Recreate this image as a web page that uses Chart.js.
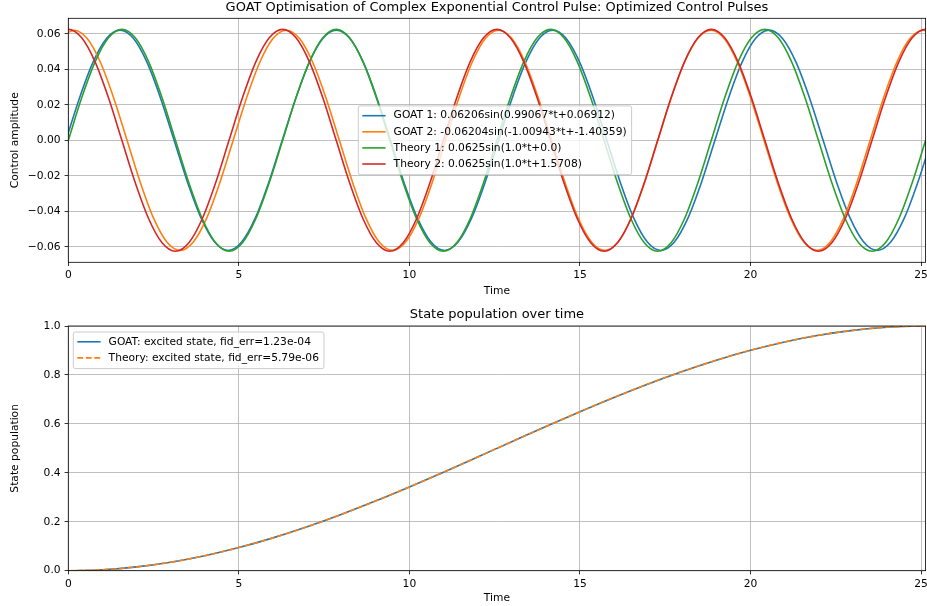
<!DOCTYPE html>
<html>
<head>
<meta charset="utf-8">
<script src="https://cdn.jsdelivr.net/npm/chart.js@4.4.1/dist/chart.umd.min.js"></script>
<style>
  body { margin: 0; background: #fff; }
  canvas { display: block; }
</style>
</head>
<body>
<canvas id="pulses" width="927" height="303"></canvas>
<canvas id="population" width="927" height="303"></canvas>
<script>
// fitted pulse GOAT 1 (amplitude 0.06206), read every sixteenth of a period
const goat1Time = [-0.4662,
  -0.0698, 0.3266, 0.7230, 1.1194, 1.5158, 1.9122, 2.3086, 2.7050,
  3.1014, 3.4978, 3.8942, 4.2906, 4.6870, 5.0834, 5.4798, 5.8762,
  6.2726, 6.6690, 7.0654, 7.4618, 7.8582, 8.2546, 8.6510, 9.0474,
  9.4438, 9.8402, 10.2366, 10.6330, 11.0294, 11.4258, 11.8222, 12.2186,
  12.6150, 13.0114, 13.4078, 13.8041, 14.2005, 14.5969, 14.9933, 15.3897,
  15.7861, 16.1825, 16.5789, 16.9753, 17.3717, 17.7681, 18.1645, 18.5609,
  18.9573, 19.3537, 19.7501, 20.1465, 20.5429, 20.9393, 21.3357, 21.7321,
  22.1285, 22.5249, 22.9213, 23.3177, 23.7141, 24.1105, 24.5069, 24.9033,
  25.2997, 25.6961];
const goat1Amp = [-0.02375,
  0, 0.02375, 0.04388, 0.05734, 0.06206, 0.05734, 0.04388, 0.02375,
  0, -0.02375, -0.04388, -0.05734, -0.06206, -0.05734, -0.04388, -0.02375,
  0, 0.02375, 0.04388, 0.05734, 0.06206, 0.05734, 0.04388, 0.02375,
  0, -0.02375, -0.04388, -0.05734, -0.06206, -0.05734, -0.04388, -0.02375,
  0, 0.02375, 0.04388, 0.05734, 0.06206, 0.05734, 0.04388, 0.02375,
  0, -0.02375, -0.04388, -0.05734, -0.06206, -0.05734, -0.04388, -0.02375,
  0, 0.02375, 0.04388, 0.05734, 0.06206, 0.05734, 0.04388, 0.02375,
  0, -0.02375, -0.04388, -0.05734, -0.06206, -0.05734, -0.04388, -0.02375,
  0, 0.02375];

// fitted pulse GOAT 2 (amplitude 0.06204)
const goat2Time = [-0.2234, 0.1656, 0.5547, 0.9437, 1.3327, 1.7218, 2.1108, 2.4998,
  2.8889, 3.2779, 3.6669, 4.0559, 4.4450,
  4.8340, 5.2230, 5.6121, 6.0011, 6.3901, 6.7792, 7.1682, 7.5572,
  7.9462, 8.3353, 8.7243, 9.1133, 9.5024, 9.8914, 10.2804, 10.6695,
  11.0585, 11.4475, 11.8365, 12.2256, 12.6146, 13.0036, 13.3927, 13.7817,
  14.1707, 14.5598, 14.9488, 15.3378, 15.7269, 16.1159, 16.5049, 16.8939,
  17.2830, 17.6720, 18.0610, 18.4501, 18.8391, 19.2281, 19.6172, 20.0062,
  20.3952, 20.7842, 21.1733, 21.5623, 21.9513, 22.3404, 22.7294, 23.1184,
  23.5075, 23.8965, 24.2855, 24.6746, 25.0636, 25.4526];
const goat2Amp = [0.05732, 0.06204, 0.05732, 0.04387, 0.02374, 0, -0.02374, -0.04387,
  -0.05732, -0.06204, -0.05732, -0.04387, -0.02374,
  0, 0.02374, 0.04387, 0.05732, 0.06204, 0.05732, 0.04387, 0.02374,
  0, -0.02374, -0.04387, -0.05732, -0.06204, -0.05732, -0.04387, -0.02374,
  0, 0.02374, 0.04387, 0.05732, 0.06204, 0.05732, 0.04387, 0.02374,
  0, -0.02374, -0.04387, -0.05732, -0.06204, -0.05732, -0.04387, -0.02374,
  0, 0.02374, 0.04387, 0.05732, 0.06204, 0.05732, 0.04387, 0.02374,
  0, -0.02374, -0.04387, -0.05732, -0.06204, -0.05732, -0.04387, -0.02374,
  0, 0.02374, 0.04387, 0.05732, 0.06204, 0.05732];

// theory pulses (amplitude 0.0625), shared time grid
const theoryTime = [-0.3927,
  0, 0.3927, 0.7854, 1.1781, 1.5708, 1.9635, 2.3562, 2.7489,
  3.1416, 3.5343, 3.9270, 4.3197, 4.7124, 5.1051, 5.4978, 5.8905,
  6.2832, 6.6759, 7.0686, 7.4613, 7.8540, 8.2467, 8.6394, 9.0321,
  9.4248, 9.8175, 10.2102, 10.6029, 10.9956, 11.3883, 11.7810, 12.1737,
  12.5664, 12.9591, 13.3518, 13.7445, 14.1372, 14.5299, 14.9226, 15.3153,
  15.7080, 16.1007, 16.4934, 16.8861, 17.2788, 17.6715, 18.0642, 18.4569,
  18.8496, 19.2423, 19.6350, 20.0277, 20.4204, 20.8131, 21.2058, 21.5984,
  21.9911, 22.3838, 22.7765, 23.1692, 23.5619, 23.9546, 24.3473, 24.7400,
  25.1327, 25.5254];
const theory1Amp = [-0.02392,
  0, 0.02392, 0.04419, 0.05774, 0.0625, 0.05774, 0.04419, 0.02392,
  0, -0.02392, -0.04419, -0.05774, -0.0625, -0.05774, -0.04419, -0.02392,
  0, 0.02392, 0.04419, 0.05774, 0.0625, 0.05774, 0.04419, 0.02392,
  0, -0.02392, -0.04419, -0.05774, -0.0625, -0.05774, -0.04419, -0.02392,
  0, 0.02392, 0.04419, 0.05774, 0.0625, 0.05774, 0.04419, 0.02392,
  0, -0.02392, -0.04419, -0.05774, -0.0625, -0.05774, -0.04419, -0.02392,
  0, 0.02392, 0.04419, 0.05774, 0.0625, 0.05774, 0.04419, 0.02392,
  0, -0.02392, -0.04419, -0.05774, -0.0625, -0.05774, -0.04419, -0.02392,
  0, 0.02392];
const theory2Amp = [0.05774,
  0.0625, 0.05774, 0.04419, 0.02392, 0, -0.02392, -0.04419, -0.05774,
  -0.0625, -0.05774, -0.04419, -0.02392, 0, 0.02392, 0.04419, 0.05774,
  0.0625, 0.05774, 0.04419, 0.02392, 0, -0.02392, -0.04419, -0.05774,
  -0.0625, -0.05774, -0.04419, -0.02392, 0, 0.02392, 0.04419, 0.05774,
  0.0625, 0.05774, 0.04419, 0.02392, 0, -0.02392, -0.04419, -0.05774,
  -0.0625, -0.05774, -0.04419, -0.02392, 0, 0.02392, 0.04419, 0.05774,
  0.0625, 0.05774, 0.04419, 0.02392, 0, -0.02392, -0.04419, -0.05774,
  -0.0625, -0.05774, -0.04419, -0.02392, 0, 0.02392, 0.04419, 0.05774,
  0.0625, 0.05774];

// excited state population
const popTime = [0, 1, 2, 3, 4, 5, 6, 7, 8, 9, 10, 11, 12, 13, 14, 15, 16, 17, 18,
  19, 20, 21, 22, 23, 24, 25, 25.1327];
const goatPop = [0, 0.0039, 0.0155, 0.0347, 0.0612, 0.0945, 0.1342, 0.1795, 0.2298,
  0.2844, 0.3423, 0.4027, 0.4646, 0.5271, 0.5891, 0.6498, 0.7081, 0.7632, 0.8141,
  0.8602, 0.9006, 0.9348, 0.9622, 0.9823, 0.9950, 0.9998, 0.9999];
const theoryPop = [0, 0.0039, 0.0155, 0.0347, 0.0612, 0.0945, 0.1342, 0.1795, 0.2298,
  0.2844, 0.3423, 0.4027, 0.4646, 0.5271, 0.5891, 0.6498, 0.7081, 0.7632, 0.8141,
  0.8602, 0.9006, 0.9348, 0.9622, 0.9823, 0.9950, 0.9999, 1.0];

const timeTicks = [0, 5, 10, 15, 20, 25];
const ampTicks = [-0.06, -0.04, -0.02, 0, 0.02, 0.04, 0.06];
const popTicks = [0, 0.2, 0.4, 0.6, 0.8, 1.0];

const T_END = 25.1327;
const FONT = 10.7;

Chart.defaults.font.family = '"DejaVu Sans"';
Chart.defaults.font.size = FONT;
Chart.defaults.color = '#000';

const pts = (ts, ys) => ts.map((t, i) => ({ x: t, y: ys[i] }));

function line(label, color, ts, ys, order, dash) {
  return {
    label, order,
    data: pts(ts, ys),
    borderColor: color,
    borderWidth: 1.6,
    borderDash: dash || [],
    pointRadius: 0,
    fill: false,
    cubicInterpolationMode: 'monotone'
  };
}

// black box around the plot area, drawn over the lines
const frame = {
  id: 'frame',
  afterDatasetsDraw(chart) {
    const { ctx, chartArea: a } = chart;
    ctx.save();
    ctx.strokeStyle = '#000';
    ctx.lineWidth = 0.8;
    ctx.strokeRect(a.left, a.top, a.right - a.left, a.bottom - a.top);
    ctx.restore();
  }
};

// legend box placed inside the plot area
const boxLegend = {
  id: 'boxLegend',
  afterDraw(chart, args, opts) {
    const { ctx, chartArea: a } = chart;
    const sets = chart.data.datasets;
    ctx.save();
    ctx.font = FONT + 'px "DejaVu Sans"';
    const textW = Math.max(...sets.map(d => ctx.measureText(d.label).width));
    const w = 35.3 + textW + 5;
    const h = (sets.length - 1) * 16.1 + 20.5;
    let x = a.left + 5, y = a.top + 6;
    if (opts.loc === 'center') {
      x = (a.left + a.right - w) / 2 - 2;
      y = (a.top + a.bottom - h) / 2;
    }
    ctx.beginPath();
    ctx.roundRect(x, y, w, h, 2);
    ctx.fillStyle = 'rgba(255,255,255,0.8)';
    ctx.fill();
    ctx.strokeStyle = '#cccccc';
    ctx.lineWidth = 1;
    ctx.stroke();
    sets.forEach((d, i) => {
      const cy = y + 9.8 + i * 16.1;
      ctx.beginPath();
      ctx.setLineDash(d.borderDash);
      ctx.strokeStyle = d.borderColor;
      ctx.lineWidth = d.borderWidth;
      ctx.moveTo(x + 4, cy);
      ctx.lineTo(x + 27.3, cy);
      ctx.stroke();
      ctx.setLineDash([]);
      ctx.fillStyle = '#000';
      ctx.textBaseline = 'middle';
      ctx.textAlign = 'left';
      ctx.fillText(d.label, x + 35.3, cy);
    });
    ctx.restore();
  }
};

function axes(opt) {
  const grid = { color: '#b0b0b0', lineWidth: 0.8, tickColor: '#000', tickWidth: 0.8, tickLength: 3.7 };
  return {
    x: {
      type: 'linear', min: 0, max: T_END,
      grid, border: { display: false },
      ticks: { padding: 3, maxRotation: 0, callback: v => String(v) },
      afterBuildTicks: s => { s.ticks = timeTicks.map(v => ({ value: v })); },
      afterFit: s => { s.height = opt.xHeight; s.paddingLeft = 0; s.paddingRight = 0; },
      title: { display: true, text: 'Time', padding: { top: 0, bottom: opt.xTitlePad } }
    },
    y: {
      type: 'linear', min: opt.yMin, max: opt.yMax,
      grid, border: { display: false },
      ticks: { padding: 4, callback: opt.fmt },
      afterBuildTicks: s => { s.ticks = opt.yTicks.map(v => ({ value: v })); },
      afterFit: s => { s.width = 68.3; s.paddingTop = 0; s.paddingBottom = 0; },
      title: { display: true, text: opt.yTitle, padding: { top: 8.6, bottom: 0 } }
    }
  };
}

function options(opt) {
  return {
    responsive: false,
    animation: false,
    devicePixelRatio: 1,
    events: [],
    layout: { padding: { left: 0, right: 1.4, top: 0, bottom: 0 } },
    scales: axes(opt),
    plugins: {
      legend: { display: false },
      tooltip: { enabled: false },
      title: {
        display: true, text: opt.title, fullSize: false, color: '#000',
        font: { size: 13, weight: 'normal' },
        padding: opt.titlePad
      },
      boxLegend: { loc: opt.legendLoc }
    }
  };
}

new Chart(document.getElementById('pulses'), {
  type: 'line',
  data: {
    datasets: [
      line('GOAT 1: 0.06206sin(0.99067*t+0.06912)', '#1f77b4', goat1Time, goat1Amp, 4),
      line('GOAT 2: -0.06204sin(-1.00943*t+-1.40359)', '#ff7f0e', goat2Time, goat2Amp, 3),
      line('Theory 1: 0.0625sin(1.0*t+0.0)', '#2ca02c', theoryTime, theory1Amp, 2),
      line('Theory 2: 0.0625sin(1.0*t+1.5708)', '#d62728', theoryTime, theory2Amp, 1)
    ]
  },
  options: options({
    title: 'GOAT Optimisation of Complex Exponential Control Pulse: Optimized Control Pulses',
    titlePad: { top: 0, bottom: 2.7 },
    yTitle: 'Control amplitude',
    yMin: -0.06875, yMax: 0.06875, yTicks: ampTicks,
    fmt: v => v.toFixed(2).replace('-', '\u2212'),
    xHeight: 40.7, xTitlePad: 5.4,
    legendLoc: 'center'
  }),
  plugins: [frame, boxLegend]
});

new Chart(document.getElementById('population'), {
  type: 'line',
  data: {
    datasets: [
      line('GOAT: excited state, fid_err=1.23e-04', '#1f77b4', popTime, goatPop, 2),
      line('Theory: excited state, fid_err=5.79e-06', '#ff7f0e', popTime, theoryPop, 1, [5.9, 2.6])
    ]
  },
  options: options({
    title: 'State population over time',
    titlePad: { top: 3.4, bottom: 4 },
    yTitle: 'State population',
    yMin: 0, yMax: 1, yTicks: popTicks,
    fmt: v => v.toFixed(1),
    xHeight: 35.3, xTitlePad: 1.0,
    legendLoc: 'upper left'
  }),
  plugins: [frame, boxLegend]
});
</script>
</body>
</html>
